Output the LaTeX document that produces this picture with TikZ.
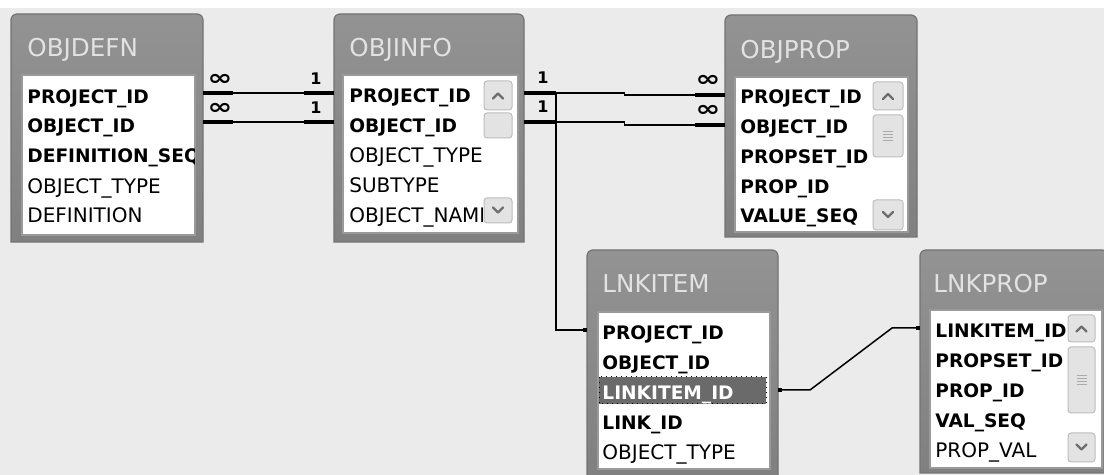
\documentclass[tikz,border=0pt]{standalone}
\usepackage{fontspec}
\setmainfont{DejaVu Sans}
\usetikzlibrary{fit,calc,arrows.meta}
\definecolor{bgc}{HTML}{EBEBEB}
\definecolor{framtop}{HTML}{939393}
\definecolor{frambot}{HTML}{808080}
\definecolor{frameedge}{HTML}{737373}
\definecolor{titletext}{HTML}{E2E2E2}
\definecolor{listedge}{HTML}{9A9A9A}
\definecolor{btnfill}{HTML}{E3E3E3}
\definecolor{btnedge}{HTML}{BDBDBD}
\definecolor{arrowc}{HTML}{6E6E6E}
\definecolor{gripc}{HTML}{ABABAB}
\definecolor{hlc}{HTML}{6A6A6A}
\tikzset{
 tbox/.style={inner sep=0pt, outer sep=0pt},
 listbox/.style={fill=white, draw=listedge, line width=0.6pt, inner sep=0pt, outer sep=0pt},
 fld/.style={inner sep=0pt, anchor=base west, font=\fontsize{10}{12}\selectfont, text=black},
 fldb/.style={inner sep=0pt, anchor=base west, font=\fontsize{9.3}{12}\selectfont\bfseries, text=black},
 ttl/.style={inner sep=0pt, anchor=base west, font=\fontsize{12.3}{14}\selectfont, text=titletext},
 rel/.style={line width=0.75pt, draw=black},
 stub/.style={line width=2.4pt, draw=black},
 card/.style={inner sep=0pt, font=\fontsize{8}{9}\selectfont\bfseries},
 cardinf/.style={inner sep=0pt, font=\fontsize{11}{12}\selectfont\bfseries},
 sbtn/.style={fill=btnfill, draw=btnedge, line width=0.5pt, rounded corners=1.5pt},
 sarr/.style={draw=arrowc, line width=1.2pt, line cap=round, line join=round},
 grip/.style={draw=gripc, line width=0.5pt},
 sqtip/.tip={Square[length=2.2pt,width=2.2pt]},
}
\newcommand\tabframe[1]{%
 \shadedraw[top color=framtop, bottom color=frambot, draw=frameedge, line width=0.6pt]
  (#1.south west) -- ([yshift=-3pt]#1.north west) arc[start angle=180,end angle=90,radius=3pt]
  -- ([xshift=-3pt]#1.north east) arc[start angle=90,end angle=0,radius=3pt]
  -- (#1.south east) -- cycle;}
\newcommand\sbup[4]{\draw[sbtn] (#1,#3) rectangle (#2,#4);
 \draw[sarr] ($(#1,#3)!0.5!(#2,#4)+(-5,3)$) -- ++(5,-5) -- ++(5,5);}
\newcommand\sbdn[4]{\draw[sbtn] (#1,#3) rectangle (#2,#4);
 \draw[sarr] ($(#1,#3)!0.5!(#2,#4)+(-5,-3)$) -- ++(5,5) -- ++(5,-5);}
\newcommand\sbthumb[4]{\draw[sbtn] (#1,#3) rectangle (#2,#4);}
\newcommand\sbgrip[4]{\foreach \g in {-4.5,-1.5,1.5,4.5}{\draw[grip] ($(#1,#3)!0.5!(#2,#4)+(-5,\g)$) -- ++(10,0);}}
\newcommand\infsym{\scalebox{1.35}[1]{∞}}
\begin{document}
\begin{tikzpicture}[x=0.5pt,y=-0.5pt]
\useasboundingbox (0,0) rectangle (1104,475);
\fill[bgc] (0,0) rectangle (1104,475);
\fill[white] (0,0) rectangle (1104,8);

% ---------- OBJDEFN
\node[tbox, fit={(11,14) (203,242)}] (objdefn) {};
\tabframe{objdefn}
\node[ttl] (t-defn) at (27,57) {OBJDEFN};
\node[listbox, fit={(22,75) (195,235)}] (objdefn-l) {};
\begin{scope}
\clip (22,75) rectangle (194,235);
\node[fldb] (df1) at (27,104) {PROJECT\_ID};
\node[fldb] (df2) at (27,133) {OBJECT\_ID};
\node[fldb] (df3) at (27,163) {DEFINITION\_SEQ};
\node[fld] (df4) at (27,194) {OBJECT\_TYPE};
\node[fld] (df5) at (27,223) {DEFINITION};
\end{scope}

% ---------- OBJINFO
\node[tbox, fit={(334,14) (524,242)}] (objinfo) {};
\tabframe{objinfo}
\node[ttl] (t-info) at (349,57) {OBJINFO};
\node[listbox, fit={(343,75) (518,233)}] (objinfo-l) {};
\begin{scope}
\clip (343,75) rectangle (482,233);
\node[fldb] (if1) at (349,103) {PROJECT\_ID};
\node[fldb] (if2) at (349,133) {OBJECT\_ID};
\node[fld] (if3) at (349,163) {OBJECT\_TYPE};
\node[fld] (if4) at (349,193) {SUBTYPE};
\node[fld] (if5) at (349,223) {OBJECT\_NAME};
\end{scope}
\sbup{484}{512}{81}{110}
\sbthumb{484}{512}{113}{138}
\sbdn{484}{512}{198}{223}

% ---------- OBJPROP
\node[tbox, fit={(725,15) (917,237)}] (objprop) {};
\tabframe{objprop}
\node[ttl] (t-prop) at (740,59) {OBJPROP};
\node[listbox, fit={(735,77) (908,232)}] (objprop-l) {};
\begin{scope}
\clip (735,77) rectangle (871,232);
\node[fldb] (op1) at (740,104) {PROJECT\_ID};
\node[fldb] (op2) at (740,134) {OBJECT\_ID};
\node[fldb] (op3) at (740,164) {PROPSET\_ID};
\node[fldb] (op4) at (740,194) {PROP\_ID};
\node[fldb] (op5) at (740,223) {VALUE\_SEQ};
\end{scope}
\sbup{873}{903}{82}{110}
\sbthumb{873}{903}{115}{157}
\sbgrip{873}{903}{115}{157}
\sbdn{873}{903}{200}{230}

% ---------- LNKITEM
\node[tbox, fit={(587,250) (778,477)}] (lnkitem) {};
\tabframe{lnkitem}
\node[ttl] (t-lnk) at (602,293) {LNKITEM};
\node[listbox, fit={(598,312) (770,469)}] (lnkitem-l) {};
\begin{scope}
\clip (598,312) rectangle (770,469);
\fill[hlc] (599,377) rectangle (766,404);
\draw[black, line width=0.5pt, dotted] (599,377) rectangle (766,404);
\node[fldb] (lk1) at (602,340) {PROJECT\_ID};
\node[fldb] (lk2) at (602,370) {OBJECT\_ID};
\node[fldb, text=white] (lk3) at (602,400) {LINKITEM\_ID};
\node[fldb] (lk4) at (602,430) {LINK\_ID};
\node[fld] (lk5) at (602,460) {OBJECT\_TYPE};
\end{scope}

% ---------- LNKPROP
\node[tbox, fit={(920,250) (1108,473)}] (lnkprop) {};
\tabframe{lnkprop}
\node[ttl] (t-lp) at (933,293) {LNKPROP};
\node[listbox, fit={(930,310) (1102,468)}] (lnkprop-l) {};
\begin{scope}
\clip (930,310) rectangle (1067,468);
\node[fldb] (lp1) at (935,338) {LINKITEM\_ID};
\node[fldb] (lp2) at (935,368) {PROPSET\_ID};
\node[fldb] (lp3) at (935,398) {PROP\_ID};
\node[fldb] (lp4) at (935,428) {VAL\_SEQ};
\node[fld] (lp5) at (935,458) {PROP\_VAL};
\end{scope}
\sbup{1068}{1095}{315}{342}
\sbthumb{1068}{1095}{347}{413}
\sbgrip{1068}{1095}{347}{413}
\sbdn{1068}{1095}{433}{462}

% ---------- connector anchor rows
\coordinate (d1) at ($(df1.base west)+(0,-11)$);
\coordinate (d2) at ($(df2.base west)+(0,-11)$);
\coordinate (q1) at ($(op1.base west)+(0,-9)$);
\coordinate (q2) at ($(op2.base west)+(0,-9)$);
\coordinate (k1) at ($(lk1.base west)+(0,-10)$);
\coordinate (k3) at ($(lk3.base west)+(0,-10)$);
\coordinate (r1) at ($(lp1.base west)+(0,-10)$);

% OBJDEFN -> OBJINFO
\coordinate (a1) at (objdefn.east |- d1);
\coordinate (b1) at (objinfo.west |- d1);
\coordinate (a2) at (objdefn.east |- d2);
\coordinate (b2) at (objinfo.west |- d2);
\draw[rel] (a1) -- (b1);
\draw[rel] (a2) -- (b2);
\draw[stub] (a1) -- ++(30,0);
\draw[stub] (b1) -- ++(-30,0);
\draw[stub] (a2) -- ++(30,0);
\draw[stub] (b2) -- ++(-30,0);
\node[cardinf] (m1) at ($(a1)+(17,-13)$) {\infsym};
\node[cardinf] (m2) at ($(a2)+(17,-13)$) {\infsym};
\node[card] (o1) at ($(b1)+(-18,-14)$) {1};
\node[card] (o2) at ($(b2)+(-18,-14)$) {1};

% OBJINFO -> OBJPROP
\coordinate (e1) at (objinfo.east |- d1);
\coordinate (f1) at (objprop.west |- q1);
\coordinate (e2) at (objinfo.east |- d2);
\coordinate (f2) at (objprop.west |- q2);
\draw[rel] (e1) -| ($(e1)!0.5!(f1)$) |- (f1);
\draw[rel] (e2) -| ($(e2)!0.5!(f2)$) |- (f2);
\draw[stub] (e1) -- ++(32,0) coordinate (v1);
\draw[stub] (e2) -- ++(32,0);
\draw[stub] (f1) -- ++(-30,0);
\draw[stub] (f2) -- ++(-30,0);
\node[card] (o3) at ($(e1)+(19,-15)$) {1};
\node[card] (o4) at ($(e2)+(19,-15)$) {1};
\node[cardinf] (m3) at ($(f1)+(-17,-14)$) {\infsym};
\node[cardinf] (m4) at ($(f2)+(-17,-14)$) {\infsym};

% OBJINFO -> LNKITEM
\draw[rel, -sqtip] (v1) |- (lnkitem.west |- k1);

% LNKITEM -> LNKPROP
\draw[rel, sqtip-sqtip] (lnkitem.east |- k3) -- ++(32,0) -- ($(lnkprop.west |- r1)+(-28,0)$) -- (lnkprop.west |- r1);
\end{tikzpicture}
\end{document}
